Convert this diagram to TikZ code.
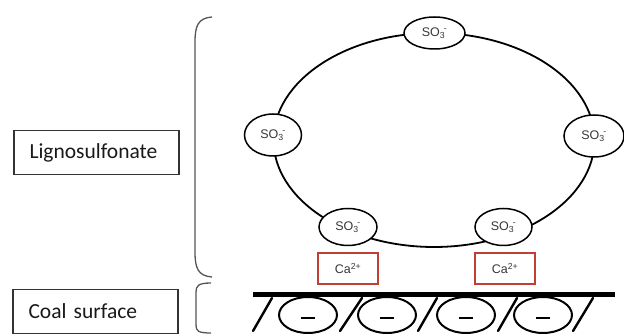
\documentclass[tikz,border=0pt]{standalone}
\usepackage{fontspec}
\setmainfont{Carlito}
\newfontfamily\arialf{Liberation Sans}
\usetikzlibrary{shapes.geometric}
\definecolor{boxred}{RGB}{192,62,52}
\definecolor{gtext}{RGB}{55,55,55}
\definecolor{bracegray}{RGB}{85,85,85}
\tikzset{
  sonode/.style={draw=black, line width=1.5pt, fill=white, ellipse, inner sep=0pt,
    minimum width=58pt, minimum height=36pt, font=\arialf\fontsize{12.5}{13}\selectfont, text=gtext},
  canode/.style={draw=boxred, line width=1.5pt, fill=white, rectangle, inner sep=0pt,
    minimum width=60pt, minimum height=31pt, font=\arialf\fontsize{12.5}{13}\selectfont, text=gtext},
  labelbox/.style={draw=black!80, line width=1.4pt, rectangle, inner xsep=15.5pt, inner ysep=0pt,
    text width=134pt, align=left, minimum height=44pt, font=\fontsize{21.5}{24}\selectfont, text=black!90},
  ring/.style={line width=1.8pt, black},
  brace/.style={line width=1.3pt, bracegray},
  slash/.style={line width=2.4pt, black, line cap=round},
  charge/.style={line width=2pt, black}
}
\newcommand{\sothree}{SO\textsubscript{3}\kern-1.5pt\textsuperscript{-}}
\begin{document}
\begin{tikzpicture}[x=1pt,y=-1pt]
\useasboundingbox (0,0) rectangle (624,336);
% left label boxes
\node[labelbox] (lig) at (96.5,152.5) {Lignosulfonate};
\node[labelbox] (coal) at (95.5,311.5) {Coal surface};
% braces
\draw[brace] (212,17) .. controls (198,18) and (195,26) .. (195,42) -- (195,252) .. controls (195,268) and (198,276) .. (212,277);
\draw[brace] (211,283) .. controls (198,283) and (196,286) .. (196,292) -- (196,325) .. controls (196,331) and (198,333) .. (211,333);
% ring (lignosulfonate backbone)
\draw[ring] (434,140) ellipse [x radius=160.5pt, y radius=107pt];
% SO3 nodes
\node[sonode, minimum width=61pt, minimum height=32pt] (top) at (434.5,33) {\sothree};
\node[sonode, minimum width=57pt, minimum height=42pt] (left) at (273,135) {\sothree};
\node[sonode, minimum width=60pt, minimum height=42pt] (right) at (594,136) {\sothree};
\node[sonode, minimum width=58pt, minimum height=37pt] (bl) at (348,227) {\sothree};
\node[sonode, minimum width=57pt, minimum height=37pt] (br) at (503.5,227) {\sothree};
% Ca boxes
\node[canode] (ca1) at (348,268.5) {Ca\textsuperscript{2+}};
\node[canode] (ca2) at (505,268.5) {Ca\textsuperscript{2+}};
% surface
\draw[line width=5pt] (253,295) -- (615,295);
\foreach \a/\b in {253/272,340/362,418/437,498/517,573/593}
  \draw[slash] (\a,331) -- (\b,298);
\foreach \c in {308,387,466,543} {
  \draw[charge] (\c,315) ellipse [x radius=29pt, y radius=18pt];
  \draw[line width=1.5pt] (\c-7,318) -- (\c+7,318);
}
\end{tikzpicture}
\end{document}
